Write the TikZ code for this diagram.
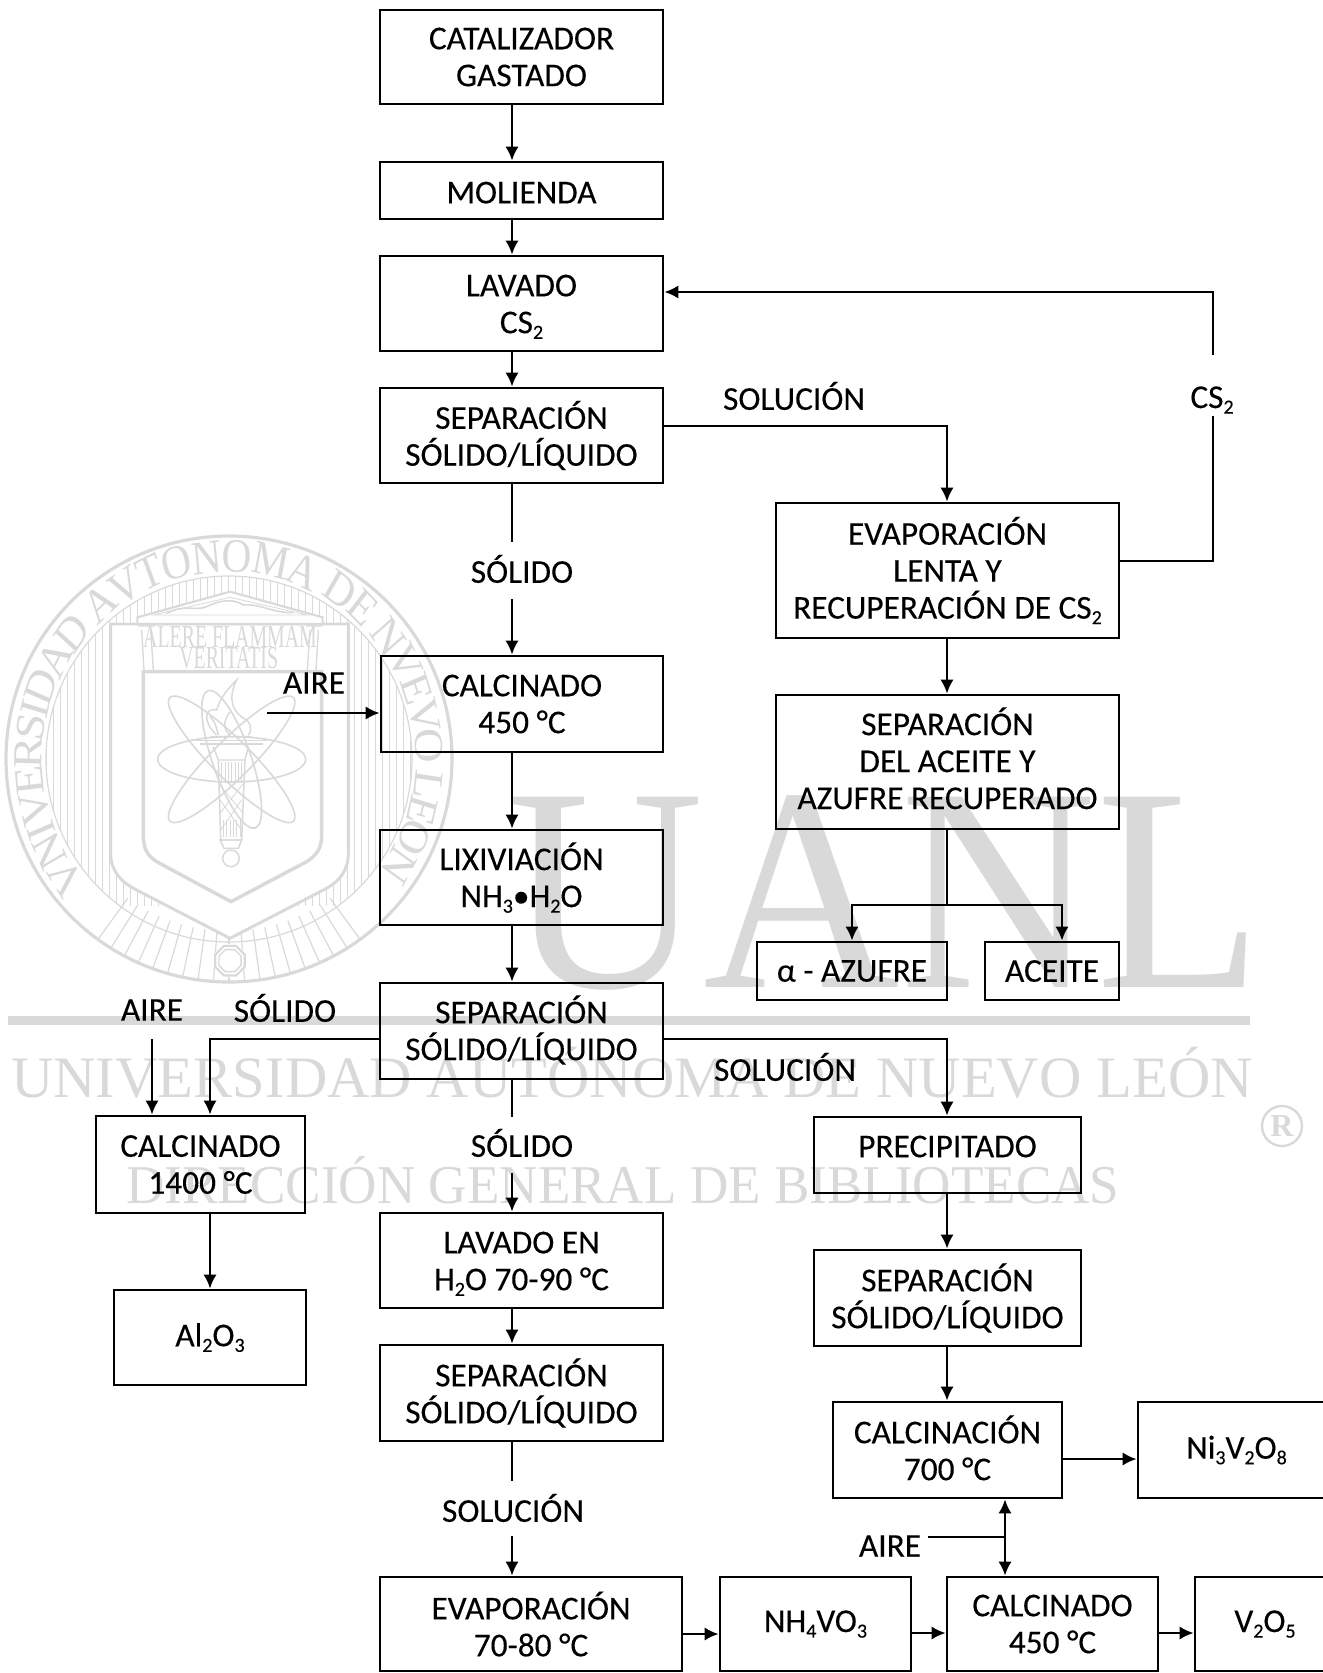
\documentclass[tikz,border=0pt]{standalone}
\usepackage{fontspec}
\setmainfont[FakeBold=0.25]{Carlito}
\newfontfamily\wmfont{Liberation Serif}
\usetikzlibrary{arrows.meta,calc}
\definecolor{wm}{HTML}{D9D9D9}
\newcommand\subn[1]{\raisebox{-0.35ex}{\fontsize{15}{15}\selectfont #1}}
\tikzset{
  bbox/.style={draw=black,line width=2pt,inner sep=0pt,font=\fontsize{25}{27.7}\selectfont},
  lbl/.style={inner sep=0pt,align=center,font=\fontsize{25}{27.7}\selectfont},
  flow/.style={draw=black,line width=2pt,-{Latex[length=10.5pt,width=10pt]}},
  plain/.style={draw=black,line width=2pt},
  wmline/.style={draw=wm,line width=1.6pt},
  wmthin/.style={draw=wm,line width=0.6pt},
  wmtext/.style={text=wm,inner sep=0pt,anchor=base},
}
\newcommand\bx[7][0]{\node[bbox,minimum width={(#5-#3)*0.75pt},minimum height={(#6-#4)*0.75pt}] (#2) at ({(#3+#5)/2},{(#4+#6)/2}) {\smash{\raise\dimexpr#1pt-0.25em\relax\hbox to 0pt{\hss\parbox[c]{300pt}{\centering #7}\hss}}};}
\begin{document}
\begin{tikzpicture}[x=0.75pt,y=-0.75pt]
\useasboundingbox (0,0) rectangle (1323,1673);
% ---------- watermark ----------
\begin{scope}
  \clip (0,500) rectangle (470,905);
  \clip (229,759) circle (183);
  \foreach \v in {46,53,...,420} \draw[wmthin] (\v,560) -- (\v,960);
\end{scope}
\foreach \a in {234,238,...,306}
  \draw[wmline,line width=0.9pt] ({229+172*cos(\a)},{759-172*sin(\a)}) -- ({229+222*cos(\a)},{759-222*sin(\a)});
\draw[wm,line width=2.4pt] (229,759) circle (223);
\draw[wmthin,line width=0.9pt] (229,759) circle (183);
\begin{scope}[shift={(0,520)},x=0.25pt,y=-0.25pt]
  % shield
  \fill[white] (332,312) -- (1045,312) -- (1045,1000) .. controls (1045,1050) and (1020,1085) .. (970,1110) -- (690,1255) -- (410,1110) .. controls (360,1085) and (332,1050) .. (332,1000) -- cycle;
  \draw[wmline,line width=2.2pt] (332,312) -- (1045,312) -- (1045,1000) .. controls (1045,1050) and (1020,1085) .. (970,1110) -- (690,1255) -- (410,1110) .. controls (360,1085) and (332,1050) .. (332,1000) -- cycle;
  \draw[wmline,line width=2.6pt] (430,455) -- (965,455) -- (965,945) .. controls (965,985) and (950,1005) .. (920,1025) -- (693,1145) -- (470,1025) .. controls (440,1005) and (430,985) .. (430,945) -- cycle;
  % temple
  \fill[white] (412,292) -- (690,215) -- (968,292) -- (968,312) -- (412,312) -- cycle;
  \draw[wmline] (412,292) -- (690,215) -- (968,292) -- (968,312) -- (412,312) -- cycle;
  \draw[wmthin] (460,285) -- (690,232) -- (922,285) -- cycle;
  \draw[wmline,line width=1.2pt] (500,280) .. controls (560,250) and (580,275) .. (620,260) .. controls (660,240) and (700,235) .. (730,255) .. controls (780,250) and (820,280) .. (880,278);
  \draw[wmline,line width=1pt] (415,318) -- (465,318) (425,330) -- (432,450) (452,330) -- (460,450);
  \draw[wmline,line width=1pt] (918,318) -- (968,318) (930,330) -- (922,450) (955,330) -- (948,450);
  % atom
  \draw[wmline,line width=1.2pt] (695,718) ellipse [x radius=222,y radius=68];
  \foreach \r/\rad in {45/262,135/262,-71/218}
    \draw[wmline,line width=1.2pt,rotate around={\r:(695,718)}] (695,718) ellipse [x radius=\rad,y radius=58];
  % torch
  \draw[wmline,line width=1.1pt] (585,662) -- (802,662) (600,672) -- (790,672);
  \draw[wmline,line width=1.1pt] (630,650) -- (755,650) (640,680) -- (655,720) (745,680) -- (735,720);
  \draw[wmline,line width=1.1pt] (655,720) -- (735,720) -- (725,960) -- (662,960) -- cycle;
  \foreach \v in {665,675,...,725} \draw[wmthin] (\v,725) -- (\v,790);
  \foreach \v in {670,680,...,720} \draw[wmthin] (\v,900) -- (\v,950);
  \draw[wmthin] (655,790) -- (730,880) (730,790) -- (660,880) (660,840) -- (725,930) (725,840) -- (662,930);
  \draw[wmline,line width=1.1pt] (660,960) -- (725,960) -- (715,985) -- (672,985) -- cycle;
  \draw[wmline,line width=1.1pt] (693,1015) circle (25);
  \draw[wmline,line width=1.1pt] (650,645) .. controls (610,610) and (610,560) .. (650,570) .. controls (660,540) and (670,520) .. (710,480) .. controls (680,540) and (700,580) .. (740,600) .. controls (760,620) and (750,640) .. (745,645);
  \draw[wmline,line width=1.1pt] (690,645) .. controls (660,620) and (680,590) .. (690,575) (630,590) .. controls (650,610) and (650,630) .. (655,645);
  % motto
  \node[text=wm,inner sep=0pt,xscale=0.62] (motto1) at (690,352) {\wmfont\fontsize{24}{24}\selectfont ALERE FLAMMAM};
  \node[text=wm,inner sep=0pt,xscale=0.62] (motto2) at (686,415) {\wmfont\fontsize{24}{24}\selectfont VERITATIS};
  % octagon
  \fill[white] (690,1322) circle (50);
  \draw[wmline,line width=1.6pt] (690,1322) +(22.5:48) -- +(67.5:48) -- +(112.5:48) -- +(157.5:48) -- +(202.5:48) -- +(247.5:48) -- +(292.5:48) -- +(337.5:48) -- cycle;
  \draw[wmline,line width=1pt] (690,1322) +(22.5:36) -- +(67.5:36) -- +(112.5:36) -- +(157.5:36) -- +(202.5:36) -- +(247.5:36) -- +(292.5:36) -- +(337.5:36) -- cycle;
\end{scope}
% seal text
\gdef\cum{0}
\foreach \c/\w in {V/.722,N/.722,I/.333,V/.722,E/.611,R/.667,S/.556,I/.333,D/.722,A/.722,D/.722,{}/.25,A/.722,V/.722,T/.611,O/.722,N/.722,O/.722,M/.889,A/.722,{}/.25,D/.722,E/.611,{}/.25,N/.722,V/.722,E/.611,V/.722,O/.722,{}/.25,L/.611,E/.611,O/.722,N/.722}{
  \pgfmathsetmacro\ang{220-(\cum+\w/2)*12.1}
  \node[wmtext,xscale=0.86,rotate=\ang-90] at ({229+187*cos(\ang)},{759-187*sin(\ang)}) {\wmfont\fontsize{36}{36}\selectfont\c};
  \pgfmathsetmacro\nxt{\cum+\w}
  \xdef\cum{\nxt}
}
% big letters and lines
\node[wmtext,xscale=0.936,anchor=base west] (bigU) at (507,987) {\wmfont\fontsize{218}{218}\selectfont UANL};
\fill[wm] (8,1016) rectangle (1250,1025);
\node[wmtext,anchor=base west] (wm1) at (11,1097) {\wmfont\fontsize{44}{44}\selectfont UNIVERSIDAD AUTÓNOMA DE NUEVO LEÓN};
\node[wmtext,xscale=0.972,anchor=base west] (wm2) at (126,1203) {\wmfont\fontsize{41}{41}\selectfont DIRECCIÓN GENERAL DE BIBLIOTECAS};
\draw[wm,line width=1.8pt] (1282,1126) circle (20);
\node[text=wm,inner sep=0pt] (wm3) at (1282,1126) {\wmfont\fontsize{24}{24}\selectfont\bfseries R};
% ---------- diagram ----------
\coordinate (ax) at (512,0);
\coordinate (bx) at (947,0);
\bx{cat}{380}{10}{663}{104}{CATALIZADOR\\GASTADO}
\bx[-1.6]{mol}{380}{162}{663}{219}{MOLIENDA}
\bx[-2.4]{lav}{380}{256}{663}{351}{LAVADO\\CS\subn{2}}
\bx{sepa}{380}{388}{663}{483}{SEPARACIÓN\\SÓLIDO/LÍQUIDO}
\bx{calc}{381}{656}{663}{752}{CALCINADO\\450 °C}
\bx{lix}{380}{830}{663}{925}{LIXIVIACIÓN\\NH\subn{3}•H\subn{2}O}
\bx[0.8]{sepb}{380}{983}{663}{1079}{SEPARACIÓN\\SÓLIDO/LÍQUIDO}
\bx[-2.4]{lavb}{380}{1213}{663}{1308}{LAVADO EN\\H\subn{2}O 70-90 °C}
\bx{sepc}{380}{1345}{663}{1441}{SEPARACIÓN\\SÓLIDO/LÍQUIDO}
\bx{eva}{380}{1577}{682}{1671}{EVAPORACIÓN\\70-80 °C}
\bx{nh}{720}{1577}{911}{1671}{NH\subn{4}VO\subn{3}}
\bx{calb}{947}{1577}{1158}{1671}{CALCINADO\\450 °C}
\bx{vo}{1195}{1577}{1335}{1671}{V\subn{2}O\subn{5}}
\bx[1.6]{cali}{833}{1402}{1062}{1498}{CALCINACIÓN\\700 °C}
\bx{ni}{1138}{1402}{1335}{1498}{Ni\subn{3}V\subn{2}O\subn{8}}
\bx{evap}{776}{503}{1119}{638}{EVAPORACIÓN\\LENTA Y\\RECUPERACIÓN DE CS\subn{2}}
\bx[2.8]{sepo}{776}{695}{1119}{829}{SEPARACIÓN\\DEL ACEITE Y\\AZUFRE RECUPERADO}
\bx{alf}{757}{942}{947}{1000}{α - AZUFRE}
\bx{ace}{985}{942}{1119}{1000}{ACEITE}
\bx[6.4]{pre}{814}{1117}{1081}{1193}{PRECIPITADO}
\bx{sepd}{814}{1250}{1081}{1346}{SEPARACIÓN\\SÓLIDO/LÍQUIDO}
\bx{calm}{96}{1116}{305}{1213}{CALCINADO\\1400 °C}
\bx{alo}{114}{1290}{306}{1385}{Al\subn{2}O\subn{3}}
% labels
\node[lbl] (lsol) at (794,396) {SOLUCIÓN};
\node[lbl] (lcs) at (1212,400) {CS\subn{2}};
\node[lbl] (lsa) at (522,569) {SÓLIDO};
\node[lbl] (lair) at (314,683) {AIRE};
\node[lbl] (lairb) at (152,1010) {AIRE};
\node[lbl] (lsb) at (285,1008) {SÓLIDO};
\node[lbl] (lsc) at (785,1067) {SOLUCIÓN};
\node[lbl] (lsd) at (522,1143) {SÓLIDO};
\node[lbl] (lse) at (513,1508) {SOLUCIÓN};
\node[lbl] (laire) at (890,1546) {AIRE};
% free ends
\coordinate (a1) at (512,542); \coordinate (a2) at (512,599);
\coordinate (b1) at (512,1117); \coordinate (b2) at (512,1173);
\coordinate (c1) at (512,1481); \coordinate (c2) at (512,1536);
\coordinate (air1) at (267,713);
\coordinate (air2) at (152,1039);
\coordinate (air3) at (928,1537);
\coordinate (j) at (1005,1537);
\coordinate (cs1) at (1213,355); \coordinate (cs2) at (1213,416);
\coordinate (sp) at (947,905);
\coordinate (acx) at (1062,0);
\coordinate (mx) at (210,0);
% connectors
\draw[flow] (cat.south -| ax) -- (mol.north -| ax);
\draw[flow] (mol.south -| ax) -- (lav.north -| ax);
\draw[flow] (lav.south -| ax) -- (sepa.north -| ax);
\draw[plain] (sepa.south -| ax) -- (a1);
\draw[flow] (a2) -- (calc.north -| ax);
\draw[flow] (calc.south -| ax) -- (lix.north -| ax);
\draw[flow] (lix.south -| ax) -- (sepb.north -| ax);
\draw[plain] (sepb.south -| ax) -- (b1);
\draw[flow] (b2) -- (lavb.north -| ax);
\draw[flow] (lavb.south -| ax) -- (sepc.north -| ax);
\draw[plain] (sepc.south -| ax) -- (c1);
\draw[flow] (c2) -- (eva.north -| ax);
\draw[flow] (air1) -- (air1 -| calc.west);
\draw[flow] (sepa.east |- 0,426) -| (evap.north -| bx);
\draw[plain] (evap.east |- 0,561) -| (cs2);
\draw[flow] (cs1) |- (lav.east |- 0,292);
\draw[flow] (evap.south -| bx) -- (sepo.north -| bx);
\draw[plain] (sepo.south -| bx) -- (sp);
\draw[flow] (sp) -| (alf.north);
\draw[flow] (sp) -| (ace.north -| acx);
\draw[flow] (sepb.east |- 0,1039) -| (pre.north -| bx);
\draw[flow] (pre.south -| bx) -- (sepd.north -| bx);
\draw[flow] (sepd.south -| bx) -- (cali.north -| bx);
\draw[flow] (air2) -- (air2 |- calm.north);
\draw[flow] (sepb.west |- 0,1039) -| (calm.north -| mx);
\draw[flow] (calm.south -| mx) -- (alo.north -| mx);
\draw[flow] (eva.east |- 0,1634) -- (nh.west |- 0,1634);
\draw[flow] (nh.east |- 0,1633) -- (calb.west |- 0,1633);
\draw[flow] (calb.east |- 0,1633) -- (vo.west |- 0,1633);
\draw[flow] (cali.east |- 0,1459) -- (ni.west |- 0,1459);
\draw[plain] (air3) -- (j);
\draw[flow] (j) -- (j |- cali.south);
\draw[flow] (j) -- (j |- calb.north);
\end{tikzpicture}
\end{document}
